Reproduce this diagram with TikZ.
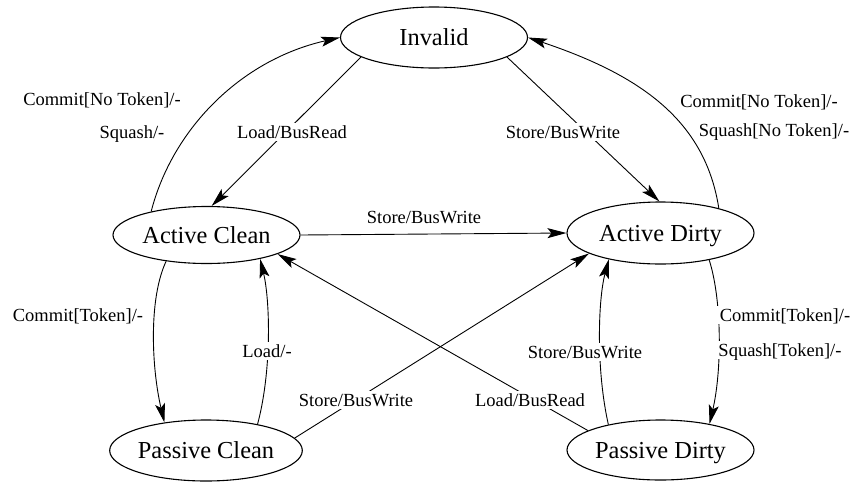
\documentclass[tikz,border=0pt]{standalone}
\usepackage{fontspec}
\setmainfont{Liberation Serif}
\usetikzlibrary{arrows.meta,shapes.geometric}
\begin{document}
\begin{tikzpicture}[x=1pt,y=-1pt,
  state/.style={ellipse,draw,line width=1.1pt,inner sep=0pt,
    minimum width=187pt,minimum height=61pt,
    font=\fontsize{24.4}{26}\selectfont,text height=16pt,text depth=0pt},
  trans/.style={line width=0.9pt,-{Stealth[length=19pt,width=10pt,inset=4pt]}},
  lbl/.style={fill=white,inner sep=3pt,font=\fontsize{18.5}{20}\selectfont,
    text height=12.5pt,text depth=0pt}]
\useasboundingbox (0,0) rectangle (857,483);

% states
\node[state] (inv) at (434,37.5) {Invalid};
\node[state,minimum height=57pt] (ac) at (206.5,235) {Active Clean};
\node[state,minimum height=62pt] (ad) at (660.5,233) {Active Dirty};
\node[state] (pc) at (206,450.5) {Passive Clean};
\node[state,minimum height=60pt] (pd) at (660.5,450) {Passive Dirty};

% transitions
\draw[trans] (ac.157) .. controls (172,130) and (240,60) .. (inv.west);
\draw[trans] (ad.23) .. controls (705,120) and (640,75) .. (inv.east);
\draw[trans] (inv.195) -- (ac.80);
\draw[trans] (inv.345) -- (ad.92);
\draw[trans] (ac.east) -- (ad.west);
\draw[trans] (ac.213) .. controls (148,300) and (152,370) .. (pc.146);
\draw[trans] (pc.27) .. controls (272,370) and (270,300) .. (ac.336);
\draw[trans] (pc.8) -- (ad.196);
\draw[trans] (pd.165) -- (ac.345);
\draw[trans] (pd.154) .. controls (596,370) and (598,300) .. (ad.207);
\draw[trans] (ad.331) .. controls (722,300) and (722,370) .. (pd.28);

% transition labels
\node[lbl] (l1) at (102,99) {Commit[No Token]/-};
\node[lbl] (l2) at (132,132) {Squash/-};
\node[lbl] (l3) at (292,132) {Load/BusRead};
\node[lbl] (l4) at (563,132) {Store/BusWrite};
\node[lbl] (l5) at (759,101) {Commit[No Token]/-};
\node[lbl] (l6) at (774,130) {Squash[No Token]/-};
\node[lbl] (l7) at (424,217) {Store/BusWrite};
\node[lbl] (l8) at (78,315) {Commit[Token]/-};
\node[lbl] (l9) at (267,351) {Load/-};
\node[lbl] (l10) at (585,352) {Store/BusWrite};
\node[lbl] (l11) at (785,315) {Commit[Token]/-};
\node[lbl] (l12) at (780,350) {Squash[Token]/-};
\node[lbl] (l13) at (356,400) {Store/BusWrite};
\node[lbl] (l14) at (530,400) {Load/BusRead};
\end{tikzpicture}
\end{document}
